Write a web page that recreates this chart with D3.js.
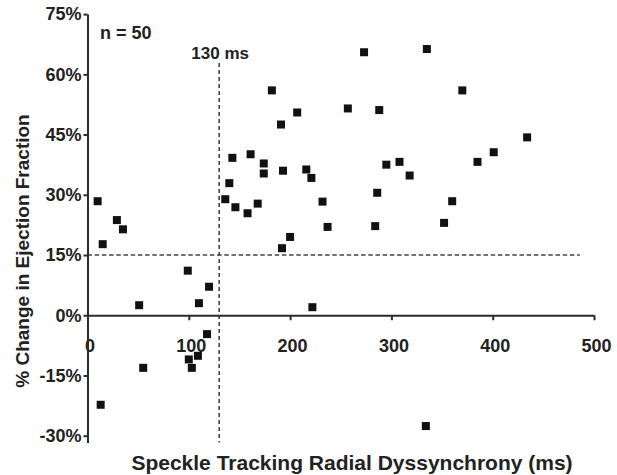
<!DOCTYPE html>
<meta charset="utf-8">
<title>radial dyssynchrony vs EF change</title>
<style>
    body { margin: 0; background: #fff; }
    svg text { font-family: "Liberation Sans", Arial, sans-serif; font-weight: bold; fill: #222; }
    .axis path, .axis line { stroke: #2b2b2b; stroke-width: 2; }
</style>
<body>
    <script src="https://d3js.org/d3.v7.min.js"></script>
    <div id="chart"></div>
    <script>
        var width = 617;
        var height = 475;

        // speckle tracking radial dyssynchrony (ms)
        var dyssynchrony = [
            10, 29, 35, 136, 146, 140, 143, 158, 161, 168,
            174, 174, 182, 191, 193, 207, 216, 221, 200, 273,
            335, 370, 257, 288, 434, 401, 385, 295, 308, 318,
            286, 232, 360, 237, 284, 352, 15, 192, 99, 120,
            110, 51, 222, 118, 109, 100, 103, 55, 13, 334
        ];
        // % change in ejection fraction
        var efChange = [
            28.4, 23.7, 21.4, 28.9, 26.9, 32.9, 39.2, 25.4, 40.1, 27.8,
            37.8, 35.3, 56.0, 47.5, 36.0, 50.5, 36.3, 34.2, 19.5, 65.5,
            66.3, 56.0, 51.5, 51.1, 44.3, 40.6, 38.2, 37.5, 38.2, 34.8,
            30.5, 28.3, 28.4, 22.0, 22.2, 23.0, 17.7, 16.7, 11.1, 7.1,
            3.0, 2.5, 2.0, -4.7, -10.1, -11.0, -13.1, -13.1, -22.3, -27.6
        ];

        var xTicks = [0, 100, 200, 300, 400, 500];
        var yTicks = [-30, -15, 0, 15, 30, 45, 60, 75];
        var cutoffMs = 130;
        var cutoffEf = 15;

        var points = dyssynchrony.map(function(d, i) { return {x: d, y: efChange[i]}; });

        var x = d3.scaleLinear().domain([0, 500]).range([87.5, 594]);
        var y = d3.scaleLinear().domain([-30, 75]).range([435.7, 14.1]);

        var svg = d3.select("#chart")
            .append("svg")
            .attr("width", width)
            .attr("height", height);

        // dashed cutoff lines
        svg.append("line")
            .attr("x1", x(cutoffMs)).attr("x2", x(cutoffMs))
            .attr("y1", y(62.8)).attr("y2", y(-31.7))
            .style("stroke", "#444")
            .style("stroke-width", 1.6)
            .style("stroke-dasharray", "4,3");

        svg.append("line")
            .attr("x1", x(0)).attr("x2", x(486))
            .attr("y1", y(cutoffEf)).attr("y2", y(cutoffEf))
            .style("stroke", "#444")
            .style("stroke-width", 1.6)
            .style("stroke-dasharray", "4.5,2.7");

        // x axis at 0%
        var xAxis = svg.append("g")
            .attr("class", "axis")
            .attr("transform", "translate(0," + y(0) + ")")
            .call(d3.axisBottom(x).tickValues(xTicks).tickSize(5).tickSizeOuter(0).tickPadding(18.5));
        xAxis.selectAll("text").style("font-size", "18px").attr("dx", 2);

        // y axis, running a little past -30%
        var yAxisScale = y.copy().domain([-31.7, 75]).range([y(-31.7), y(75)]);
        var yAxis = svg.append("g")
            .attr("class", "axis")
            .attr("transform", "translate(" + x(0) + ",0)")
            .call(d3.axisLeft(yAxisScale).tickValues(yTicks).tickSize(4).tickSizeOuter(0).tickPadding(2)
                .tickFormat(function(d) { return d + "%"; }));
        yAxis.selectAll("text").style("font-size", "18px");

        // data points
        svg.append("g")
            .selectAll("rect")
            .data(points)
            .enter().append("rect")
            .attr("x", function(d) { return x(d.x) - 4; })
            .attr("y", function(d) { return y(d.y) - 4; })
            .attr("width", 8)
            .attr("height", 8)
            .style("fill", "#111");

        // labels
        svg.append("text")
            .attr("x", 100)
            .attr("y", 38.5)
            .style("font-size", "18px")
            .text("n = 50");

        svg.append("text")
            .attr("x", x(cutoffMs) + 1)
            .attr("y", 59)
            .style("text-anchor", "middle")
            .style("font-size", "17px")
            .text(cutoffMs + " ms");

        svg.append("text")
            .attr("x", (127 + 577) / 2)
            .attr("y", 470)
            .style("text-anchor", "middle")
            .style("font-size", "21px")
            .text("Speckle Tracking Radial Dyssynchrony (ms)");

        svg.append("text")
            .attr("transform", "translate(29," + ((112 + 390) / 2) + ") rotate(-90)")
            .style("text-anchor", "middle")
            .style("font-size", "19px")
            .text("% Change in Ejection Fraction");
    </script>
</body>
